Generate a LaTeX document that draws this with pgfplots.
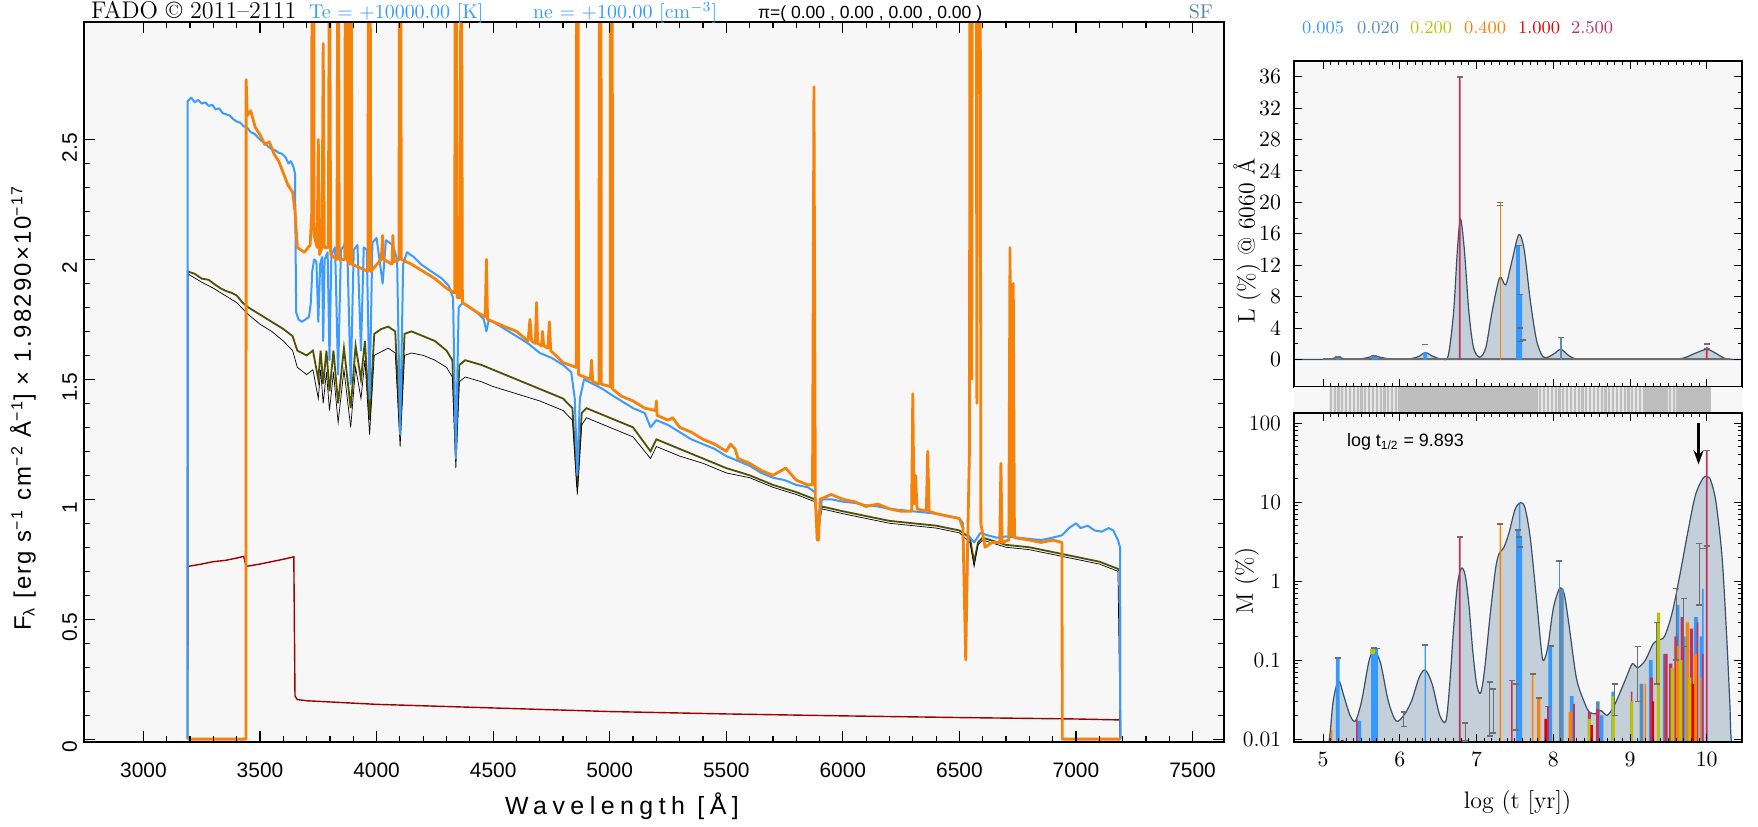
\documentclass[border=0pt]{standalone}
\usepackage{pgfplots}
\pgfplotsset{compat=1.18}
\usepackage{fontspec}
\newfontfamily\lib{Liberation Sans}
\newfontfamily\libw[LetterSpace=9]{Liberation Sans}
\newfontfamily\libww[LetterSpace=22]{Liberation Sans}
\usetikzlibrary{arrows.meta}
\definecolor{bgc}{HTML}{F7F7F7}
\definecolor{specblue}{HTML}{3D9BFF}
\definecolor{specorange}{HTML}{F5820A}
\definecolor{olivec}{HTML}{4F5205}
\definecolor{nebred}{HTML}{9E0000}
\definecolor{lblue}{HTML}{3399FF}
\definecolor{sblue}{HTML}{5A8CB8}
\definecolor{ygreen}{HTML}{B8C40A}
\definecolor{zorange}{HTML}{FF7F00}
\definecolor{zred}{HTML}{E00000}
\definecolor{crimson}{HTML}{C2305E}
\definecolor{fillc}{HTML}{C3CFD9}
\definecolor{linec}{HTML}{3A5068}
\definecolor{capc}{HTML}{6E6E6E}
\definecolor{bandg}{HTML}{BDBDBD}
\definecolor{bandl}{HTML}{E6E6E6}
\definecolor{sfc}{HTML}{5585B5}
\begin{document}
\begin{tikzpicture}[x=1bp,y=1bp]
\path[use as bounding box] (0,0) rectangle (879,413);
% ---------------- main spectrum panel
\begin{axis}[
 at={(42bp,42bp)}, anchor=south west, scale only axis,
 width=570bp, height=360bp,
 xmin=2745, xmax=7635, ymin=-0.012, ymax=2.99,
 axis background/.style={fill=bgc},
 axis on top,
 xtick={3000,3500,...,7500}, minor x tick num=4,
 ytick={0,0.5,1,1.5,2,2.5}, minor y tick num=4,
 tick align=inside,
 major tick length=5.7bp, minor tick length=3bp,
 every tick/.style={black, line width=0.6bp},
 axis line style={black, line width=0.9bp},
 /pgf/number format/assume math mode=true,
 /pgf/number format/1000 sep={},
 scaled ticks=false,
 xticklabel style={font=\lib\fontsize{10.5}{12}\selectfont, yshift=-7bp},
 yticklabel style={font=\lib\fontsize{10.5}{12}\selectfont, rotate=90, anchor=south, xshift=-4bp},
]
% nebular continuum
\addplot[nebred, line width=0.7bp] coordinates {
(3190,0.29)(3191,0.72)(3250,0.73)(3300,0.74)(3350,0.745)(3400,0.755)(3430,0.762)(3440,0.72)(3500,0.73)(3550,0.74)(3600,0.75)(3645,0.76)(3650,0.18)(3660,0.165)(3700,0.16)(3800,0.155)(4000,0.145)(4500,0.13)(5000,0.115)(5500,0.105)(6000,0.097)(6500,0.09)(7000,0.084)(7190,0.08)(7191,0)};
% olive model
\addplot[olivec, line width=0.9bp] coordinates {
(3189,0)(3190,1.95)(3220,1.94)(3250,1.92)(3280,1.915)(3300,1.90)(3330,1.88)(3350,1.87)(3380,1.86)(3400,1.85)(3425,1.82)(3450,1.80)(3500,1.77)(3550,1.74)(3600,1.71)(3640,1.68)(3660,1.62)(3700,1.60)(3727,1.62)(3750,1.50)(3760,1.62)(3771,1.48)(3785,1.62)(3798,1.45)(3815,1.62)(3835,1.40)(3860,1.63)(3889,1.38)(3910,1.64)(3933,1.50)(3950,1.66)(3970,1.33)(3990,1.69)(4020,1.71)(4050,1.72)(4080,1.70)(4101,1.27)(4120,1.69)(4150,1.70)(4200,1.68)(4250,1.66)(4300,1.62)(4325,1.58)(4340,1.18)(4355,1.56)(4380,1.58)(4450,1.56)(4500,1.54)(4600,1.50)(4700,1.46)(4800,1.42)(4840,1.38)(4861,1.05)(4880,1.36)(4900,1.38)(5000,1.34)(5100,1.30)(5175,1.20)(5200,1.25)(5300,1.21)(5400,1.17)(5500,1.13)(5600,1.10)(5700,1.06)(5800,1.03)(5880,1.00)(5893,0.88)(5910,0.97)(6000,0.95)(6100,0.93)(6200,0.91)(6300,0.90)(6400,0.89)(6500,0.87)(6545,0.84)(6563,0.74)(6580,0.82)(6600,0.84)(6700,0.81)(6800,0.80)(6900,0.78)(7000,0.76)(7100,0.74)(7180,0.71)(7189,0.70)(7190,0)};
\addplot[black, line width=0.35bp] coordinates {
(3190,1.94)(3250,1.905)(3300,1.88)(3350,1.85)(3400,1.82)(3450,1.77)(3500,1.73)(3550,1.70)(3600,1.66)(3640,1.62)(3660,1.55)(3700,1.52)(3727,1.54)(3750,1.42)(3760,1.54)(3771,1.40)(3785,1.53)(3798,1.37)(3815,1.53)(3835,1.32)(3860,1.54)(3889,1.30)(3910,1.55)(3933,1.42)(3950,1.58)(3970,1.27)(3990,1.60)(4050,1.63)(4080,1.61)(4101,1.22)(4120,1.60)(4150,1.61)(4200,1.60)(4250,1.58)(4300,1.55)(4325,1.51)(4340,1.13)(4355,1.49)(4380,1.51)(4450,1.49)(4500,1.47)(4600,1.44)(4700,1.41)(4800,1.37)(4840,1.33)(4861,1.02)(4880,1.31)(4900,1.34)(5000,1.30)(5100,1.26)(5175,1.17)(5200,1.22)(5300,1.18)(5400,1.15)(5500,1.11)(5600,1.09)(5700,1.05)(5800,1.02)(5880,0.99)(5893,0.87)(5910,0.96)(6000,0.94)(6100,0.92)(6200,0.90)(6300,0.89)(6400,0.88)(6500,0.86)(6545,0.82)(6563,0.72)(6580,0.81)(6600,0.83)(6700,0.80)(6800,0.79)(6900,0.77)(7000,0.75)(7100,0.73)(7180,0.70)(7190,0)};
% blue spectrum
\addplot[specblue, line width=1.0bp, line join=round] coordinates {
(3189,0)(3190,2.66)(3205,2.675)(3220,2.655)(3235,2.665)(3250,2.65)(3265,2.655)(3280,2.64)(3295,2.645)(3310,2.625)(3325,2.63)(3340,2.61)(3355,2.605)(3370,2.6)(3385,2.585)(3400,2.575)(3415,2.57)(3430,2.555)(3445,2.55)(3460,2.53)(3475,2.525)(3490,2.51)(3505,2.495)(3520,2.485)(3535,2.47)(3550,2.46)(3565,2.455)(3580,2.445)(3595,2.44)(3610,2.425)(3622,2.40)(3632,2.41)(3642,2.39)(3650,2.36)(3655,1.78)(3665,1.75)(3680,1.74)(3695,1.75)(3710,1.76)(3718,1.82)(3724,1.95)(3732,2.0)(3742,1.99)(3750,1.74)(3758,1.98)(3766,2.01)(3771,1.66)(3777,2.0)(3790,2.03)(3798,1.58)(3806,2.02)(3822,2.05)(3835,1.52)(3847,2.04)(3862,2.06)(3875,2.02)(3889,1.48)(3902,2.04)(3918,2.06)(3933,1.62)(3945,2.05)(3958,2.04)(3970,1.42)(3982,2.07)(4000,2.09)(4026,1.9)(4040,2.08)(4070,2.06)(4088,2.0)(4101,1.27)(4114,1.98)(4130,2.03)(4160,2.01)(4190,1.98)(4220,1.96)(4250,1.94)(4280,1.92)(4310,1.89)(4328,1.84)(4340,1.17)(4352,1.8)(4370,1.82)(4400,1.80)(4430,1.78)(4460,1.75)(4471,1.7)(4482,1.75)(4500,1.74)(4550,1.71)(4600,1.68)(4650,1.65)(4700,1.61)(4750,1.59)(4800,1.56)(4835,1.53)(4850,1.42)(4861,1.10)(4872,1.42)(4890,1.5)(4930,1.48)(4970,1.46)(5000,1.44)(5050,1.41)(5100,1.38)(5150,1.36)(5175,1.30)(5200,1.33)(5250,1.31)(5300,1.28)(5350,1.25)(5400,1.23)(5450,1.21)(5500,1.18)(5550,1.16)(5600,1.14)(5650,1.11)(5700,1.09)(5750,1.08)(5800,1.06)(5850,1.05)(5880,1.03)(5892,0.87)(5900,0.9)(5910,1.0)(5950,1.0)(6000,0.99)(6050,0.985)(6100,0.975)(6150,0.97)(6200,0.96)(6250,0.955)(6300,0.95)(6350,0.945)(6400,0.94)(6450,0.93)(6500,0.92)(6515,0.9)(6527,0.5)(6538,0.85)(6563,0.82)(6590,0.86)(6620,0.85)(6660,0.84)(6700,0.845)(6750,0.84)(6800,0.835)(6850,0.83)(6900,0.84)(6940,0.85)(6970,0.88)(7000,0.9)(7020,0.88)(7050,0.89)(7080,0.87)(7110,0.865)(7140,0.88)(7160,0.87)(7180,0.83)(7189,0.8)(7190,0)};
% orange emission-line spectrum
\addplot[specorange, line width=1.4bp, line join=round] coordinates {
(3189,0)(3440,0)(3440.5,2.75)(3445,2.6)(3460,2.62)(3480,2.55)(3500,2.52)(3520,2.48)(3540,2.49)(3560,2.44)(3580,2.41)(3600,2.36)(3620,2.31)(3640,2.28)(3650,2.2)(3660,2.05)(3690,2.03)(3715,2.06)(3722,2.2)(3727,9)(3732,2.1)(3745,2.05)(3750,2.5)(3755,2.02)(3766,2.05)(3771,2.9)(3776,2.05)(3793,2.05)(3798,3.5)(3803,2.02)(3830,2.0)(3835,4)(3840,2.0)(3864,2.0)(3869,6)(3874,2.0)(3884,1.98)(3889,5)(3894,1.98)(3963,1.95)(3968,6)(3975,1.95)(4020,2.0)(4026,2.1)(4030,2.0)(4066,1.98)(4070,2.1)(4074,1.99)(4096,2.0)(4101,5)(4106,2.0)(4150,1.98)(4200,1.95)(4250,1.92)(4300,1.88)(4335,1.86)(4340,5)(4346,1.84)(4358,1.84)(4363,4)(4368,1.82)(4400,1.80)(4430,1.78)(4466,1.76)(4471,2.0)(4476,1.75)(4500,1.74)(4550,1.72)(4600,1.70)(4650,1.66)(4658,1.75)(4665,1.66)(4681,1.65)(4686,1.82)(4691,1.65)(4707,1.64)(4712,1.70)(4717,1.64)(4735,1.63)(4741,1.74)(4747,1.62)(4800,1.57)(4856,1.55)(4861,8)(4866,1.52)(4917,1.50)(4922,1.58)(4927,1.49)(4954,1.48)(4959,8)(4964,1.48)(5002,1.47)(5007,10)(5012,1.46)(5050,1.43)(5100,1.41)(5150,1.38)(5197,1.37)(5200,1.41)(5203,1.35)(5250,1.33)(5270,1.34)(5300,1.30)(5350,1.28)(5400,1.25)(5450,1.23)(5500,1.20)(5518,1.23)(5538,1.21)(5550,1.17)(5600,1.15)(5650,1.12)(5700,1.10)(5755,1.13)(5800,1.08)(5850,1.06)(5870,1.06)(5876,2.72)(5882,1.00)(5890,0.83)(5896,0.83)(5902,1.0)(5950,1.02)(6000,1.00)(6050,0.99)(6100,0.97)(6150,0.98)(6200,0.96)(6250,0.95)(6295,0.95)(6300,1.44)(6305,0.98)(6312,1.1)(6318,0.96)(6358,0.95)(6364,1.2)(6370,0.95)(6400,0.94)(6450,0.93)(6500,0.92)(6515,0.88)(6527,0.33)(6535,0.8)(6543,1.2)(6548,6)(6553,1.5)(6563,10)(6575,1.4)(6584,8)(6592,0.9)(6610,0.8)(6640,0.82)(6673,0.82)(6678,1.15)(6683,0.82)(6712,0.83)(6717,2.05)(6722,0.85)(6727,0.85)(6731,1.9)(6736,0.84)(6800,0.83)(6850,0.82)(6900,0.83)(6940,0.82)(6941,0)(7190,0)};
\end{axis}
% ---------------- L(%) panel
\begin{axis}[
 at={(647bp,219.5bp)}, anchor=south west, scale only axis,
 width=224bp, height=163bp,
 xmin=4.62, xmax=10.46, ymin=-3.5, ymax=38,
 axis background/.style={fill=bgc}, axis on top,
 xtick={5,6,...,10}, minor x tick num=9, xticklabels={},
 ytick={0,4,...,36}, minor y tick num=1,
 tick align=inside, major tick length=4bp, minor tick length=2bp,
 every tick/.style={black, line width=0.5bp},
 axis line style={black, line width=0.8bp},
 yticklabel style={font=\fontsize{11}{13}\selectfont, xshift=-3bp},
]
\addplot[fill=fillc, draw=linec, line width=0.6bp, smooth] coordinates {
(4.62,0)(5.0,0)(5.1,0.05)(5.19,0.3)(5.3,0.05)(5.5,0.1)(5.67,0.4)(5.85,0.1)(6.1,0.05)(6.25,0.4)(6.33,0.9)(6.43,0.4)(6.55,0.05)(6.63,0.5)(6.7,6)(6.75,14)(6.79,17.9)(6.84,14)(6.9,6)(6.96,1.5)(7.04,0.3)(7.12,1.5)(7.2,6)(7.3,10.4)(7.38,9.5)(7.46,12.5)(7.55,15.9)(7.62,14)(7.7,7.5)(7.78,2.5)(7.86,0.4)(7.93,0.3)(8.02,0.8)(8.1,1.3)(8.2,0.5)(8.3,0.05)(8.5,0)(9.5,0)(9.7,0.2)(9.85,0.8)(10.0,1.3)(10.1,0.9)(10.25,0.1)(10.46,0)} \closedcycle;
\addplot[capc, line width=0.8bp] coordinates {(5.0,0.08)(10.3,0.08)};
\addplot[ybar, bar shift=0pt, bar width=1.8bp, fill=lblue, draw=none] coordinates {(5.19,0.3)(5.66,0.4)(5.69,0.35)(7.54,14.5)(7.57,8.2)(6.33,0.9)};
\addplot[ybar, bar shift=0pt, bar width=0.8bp, fill=crimson, draw=none] coordinates {(6.78,36)(10.0,1.6)};
\addplot[ybar, bar shift=0pt, bar width=0.8bp, fill=zorange, draw=none] coordinates {(7.31,20)};
\addplot[ybar, bar shift=0pt, bar width=0.8bp, fill=sblue, draw=none] coordinates {(8.1,2.8)};
\addplot[only marks, mark=-, mark size=1.5bp, mark options={capc, line width=0.8bp}] coordinates {
(5.19,0.35)(5.66,0.45)(6.33,1.9)(6.78,36)(7.31,20)(7.31,19.6)(7.55,14.5)(7.57,8.3)(7.56,4.0)(7.57,2.3)(7.6,2.5)(8.1,2.8)(10.0,2.0)(10.0,1.4)};
\end{axis}
% ---------------- age band
\begin{axis}[
 at={(647bp,206.5bp)}, anchor=south west, scale only axis,
 width=224bp, height=13bp,
 xmin=4.62, xmax=10.46, ymin=0, ymax=1, hide axis,
]
\addplot[fill=bgc, draw=none] coordinates {(4.62,0)(4.62,1)(10.46,1)(10.46,0)};
\addplot[fill=bandl, draw=none] coordinates {(5.08,0)(5.08,1)(5.97,1)(5.97,0)};
\addplot[fill=bandl, draw=none] coordinates {(7.76,0)(7.76,1)(9.2,1)(9.2,0)};
\addplot[fill=bandl, draw=none] coordinates {(9.5,0)(9.5,1)(9.6,1)(9.6,0)};
\addplot[fill=bandg, draw=none] coordinates {(5.98,0)(5.98,1)(7.76,1)(7.76,0)};
\addplot[fill=bandg, draw=none] coordinates {(9.2,0)(9.2,1)(9.5,1)(9.5,0)};
\addplot[fill=bandg, draw=none] coordinates {(9.6,0)(9.6,1)(10.05,1)(10.05,0)};
\addplot[ycomb, draw=bandg, line width=1.1bp] coordinates {
(5.10,1)(5.15,1)(5.20,1)(5.25,1)(5.30,1)(5.35,1)(5.40,1)(5.45,1)(5.50,1)(5.55,1)(5.60,1)(5.65,1)(5.70,1)(5.75,1)(5.80,1)(5.85,1)(5.90,1)(5.95,1)
(7.78,1)(7.83,1)(7.88,1)(7.93,1)(7.98,1)(8.03,1)(8.08,1)(8.13,1)(8.18,1)(8.23,1)(8.28,1)(8.33,1)(8.38,1)(8.43,1)(8.48,1)(8.53,1)(8.58,1)(8.63,1)(8.68,1)(8.73,1)(8.78,1)(8.83,1)(8.88,1)(8.93,1)(8.98,1)(9.03,1)(9.08,1)(9.13,1)(9.18,1)(9.52,1)(9.57,1)};
\end{axis}
% ---------------- M(%) panel
\begin{axis}[
 at={(647bp,42bp)}, anchor=south west, scale only axis,
 width=224bp, height=164.5bp,
 xmin=4.62, xmax=10.46, ymode=log, ymin=0.0092, ymax=134,
 log origin y=infty,
 axis background/.style={fill=bgc}, axis on top,
 xtick={5,6,...,10}, minor x tick num=9,
 ytick={0.01,0.1,1,10,100}, yticklabels={0.01,0.1,1,10,100},
 minor ytick={0.02,0.03,0.04,0.05,0.06,0.07,0.08,0.09,0.2,0.3,0.4,0.5,0.6,0.7,0.8,0.9,2,3,4,5,6,7,8,9,20,30,40,50,60,70,80,90},
 tick align=inside, major tick length=4bp, minor tick length=2bp,
 every tick/.style={black, line width=0.5bp},
 axis line style={black, line width=0.8bp},
 xticklabel style={font=\fontsize{11}{13}\selectfont, yshift=-1.5bp},
 yticklabel style={font=\fontsize{11}{13}\selectfont, xshift=-3bp},
 unbounded coords=jump,
]
\addplot[fill=fillc, draw=linec, line width=0.6bp, smooth] coordinates {
(4.62,0.005)(5.0,0.005)(5.08,0.01)(5.13,0.03)(5.2,0.055)(5.27,0.035)(5.35,0.02)(5.42,0.017)(5.5,0.03)(5.6,0.1)(5.67,0.13)(5.75,0.09)(5.85,0.03)(5.95,0.017)(6.05,0.02)(6.15,0.03)(6.25,0.06)(6.33,0.075)(6.42,0.05)(6.52,0.02)(6.6,0.017)(6.65,0.05)(6.7,0.25)(6.75,0.9)(6.8,1.45)(6.85,1.2)(6.9,0.5)(6.95,0.13)(7.0,0.05)(7.05,0.038)(7.1,0.07)(7.18,0.4)(7.25,1.5)(7.3,2.3)(7.35,2.6)(7.42,4)(7.5,8)(7.57,9.8)(7.63,8.5)(7.7,3.5)(7.78,0.6)(7.85,0.12)(7.88,0.1)(7.93,0.15)(8.0,0.45)(8.08,0.8)(8.14,0.7)(8.2,0.3)(8.3,0.06)(8.4,0.03)(8.47,0.022)(8.55,0.021)(8.62,0.023)(8.7,0.02)(8.78,0.025)(8.85,0.035)(8.95,0.06)(9.03,0.09)(9.1,0.08)(9.2,0.1)(9.3,0.16)(9.37,0.18)(9.45,0.2)(9.55,0.4)(9.65,1.2)(9.75,4)(9.85,12)(9.95,20)(10.0,21)(10.05,19)(10.12,10)(10.2,2)(10.26,0.2)(10.3,0.03)(10.33,0.008)(10.46,0.005)};
% bars, coloured by metallicity
\addplot[ybar, bar shift=0pt, bar width=0.7bp, fill=lblue, draw=none] coordinates {(6.33,0.155)(7.56,9.5)(9.95,0.8)};
\addplot[ybar, bar shift=0pt, bar width=1.8bp, fill=lblue, draw=none] coordinates {(5.19,0.106)(5.65,0.142)(5.69,0.14)(5.47,0.017)(7.54,4.4)(7.57,3.6)(7.96,0.15)(8.24,0.035)(8.63,0.02)(8.78,0.04)(9.27,0.1)(9.62,0.5)(9.7,0.2)(9.86,0.35)(9.93,0.2)};
\addplot[ybar, bar shift=0pt, bar width=0.7bp, fill=sblue, draw=none] coordinates {(8.08,1.8)};
\addplot[ybar, bar shift=0pt, bar width=1.8bp, fill=sblue, draw=none] coordinates {(8.11,0.8)(8.58,0.03)(9.15,0.05)(9.45,0.12)};
\addplot[ybar, bar shift=0pt, bar width=0.8bp, fill=crimson, draw=none] coordinates {(5.44,0.018)(6.78,3.6)(7.46,0.055)(7.93,0.026)(9.02,0.04)(9.88,0.3)(9.95,0.12)(10.0,45)(8.27,0.028)};
\addplot[ybar, bar shift=0pt, bar width=1.6bp, fill=crimson, draw=none] coordinates {(9.47,0.12)(9.53,0.09)(9.6,0.2)(9.68,0.35)(9.8,0.25)(8.47,0.022)(8.58,0.024)(9.28,0.06)};
\addplot[ybar, bar shift=0pt, bar width=0.8bp, fill=zorange, draw=none] coordinates {(5.11,0.013)(7.31,5.3)(7.73,0.067)(9.2,0.05)(9.92,0.06)};
\addplot[ybar, bar shift=0pt, bar width=1.6bp, fill=zorange, draw=none] coordinates {(7.81,0.033)(9.62,0.15)(9.75,0.3)(9.85,0.12)(8.22,0.022)};
\addplot[ybar, bar shift=0pt, bar width=1.6bp, fill=ygreen, draw=none] coordinates {(8.47,0.018)(8.78,0.035)(9.02,0.03)(9.37,0.4)(9.55,0.08)(9.66,0.1)(9.78,0.06)};
\addplot[ybar, bar shift=0pt, bar width=1.2bp, fill=zred, draw=none] coordinates {(5.25,0.0098)(7.9,0.018)(9.3,0.03)(9.82,0.05)(8.5,0.015)};
\addplot[only marks, mark=square*, mark size=1.1bp, ygreen] coordinates {(5.64,0.128)};
% error bars
\addplot[capc, line width=0.5bp, mark=-, mark size=1.5bp, mark options={capc, line width=0.7bp}] coordinates {
(6.05,0.0145)(6.05,0.022)(6.05,nan)
(6.85,0.0095)(6.85,0.016)(6.85,nan)
(7.17,0.011)(7.17,0.053)(7.17,nan)
(7.22,0.012)(7.22,0.043)(7.22,nan)
(7.52,0.013)(7.52,0.05)(7.52,nan)
(8.8,0.02)(8.8,0.05)(8.8,nan)
(9.1,0.03)(9.1,0.15)(9.1,nan)
(9.35,0.05)(9.35,0.3)(9.35,nan)
(9.6,0.1)(9.6,0.8)(9.6,nan)
(9.7,0.15)(9.7,0.6)(9.7,nan)
(9.9,0.5)(9.9,3.0)};
\addplot[only marks, mark=-, mark size=1.5bp, mark options={capc, line width=0.8bp}] coordinates {
(5.19,0.106)(5.66,0.142)(5.7,0.14)(6.33,0.155)(6.78,3.6)(7.31,5.3)(7.54,4.4)(7.55,3.6)(7.57,2.7)(7.46,0.055)(7.73,0.067)(7.81,0.033)(7.93,0.026)(7.97,0.15)(8.08,1.8)(10.0,45)(10.0,2.8)(9.95,2.6)};
\addplot[black, line width=1.1bp, -{Stealth[length=7bp,width=5bp]}] coordinates {(9.893,100)(9.893,30)};
\end{axis}
% ---------------- texts
\node[anchor=base west, font=\fontsize{12.1}{14}\selectfont] at (42,403.5) {FADO © 2011--2111};
\node[anchor=base west, font=\fontsize{10}{12}\selectfont, text=lblue] at (151,403.5) {Te = +10000.00 [K]};
\node[anchor=base west, font=\fontsize{10}{12}\selectfont, text=lblue] at (263,403.5) {ne = +100.00 [cm$^{-3}$]};
\node[anchor=base west, font=\lib\fontsize{8.8}{10}\selectfont] at (375.5,403.5) {π=( 0.00 , 0.00 , 0.00 , 0.00 )};
\node[anchor=base east, font=\fontsize{10}{12}\selectfont, text=sfc] at (610,403.5) {SF};
\node[anchor=base west, font=\fontsize{9}{11}\selectfont, text=lblue] at (647.5,396) {0.005};
\node[anchor=base west, font=\fontsize{9}{11}\selectfont, text=sblue] at (675,396) {0.020};
\node[anchor=base west, font=\fontsize{9}{11}\selectfont, text=ygreen] at (701.5,396) {0.200};
\node[anchor=base west, font=\fontsize{9}{11}\selectfont, text=zorange] at (728.5,396) {0.400};
\node[anchor=base west, font=\fontsize{9}{11}\selectfont, text=zred] at (755.5,396) {1.000};
\node[anchor=base west, font=\fontsize{9}{11}\selectfont, text=crimson] at (782,396) {2.500};
\node[rotate=90, font=\libw\fontsize{12}{14}\selectfont] at (11.5,209) {F\textsubscript{λ} [erg s\textsuperscript{−1} cm\textsuperscript{−2} Å\textsuperscript{−1}] × 1.98290×10\textsuperscript{−17}};
\node[font=\libww\fontsize{12.5}{14}\selectfont] at (311,10) {Wavelength [Å]};
\node[rotate=90, font=\fontsize{12}{14}\selectfont] at (623.5,292.6) {L (\%) @ 6060 Å};
\node[rotate=90, font=\fontsize{12}{14}\selectfont] at (623.5,122.5) {M (\%)};
\node[font=\fontsize{12}{14}\selectfont] at (758.75,11.5) {log (t [yr])};
\node[anchor=base west, font=\lib\fontsize{9}{11}\selectfont] at (670,189.6) {log t\textsubscript{1/2} = 9.893};
\end{tikzpicture}
\end{document}
